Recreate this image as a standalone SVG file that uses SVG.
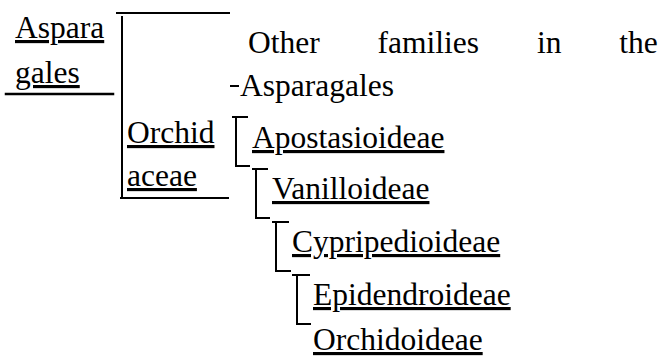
<svg xmlns="http://www.w3.org/2000/svg" width="664" height="356" viewBox="0 0 664 356">
<style>
.t{font-family:'Liberation Serif','Times New Roman','DejaVu Serif',serif;font-size:31.5px;fill:#000}
.u{text-decoration:underline}
line{stroke:#000;stroke-width:2;stroke-linecap:square}
.thick{stroke-width:2.5}
</style>
<rect width="664" height="356" fill="#fff"/>
<g id="connectors">
<line class="thick" x1="6" y1="94" x2="113" y2="94"/>
<line x1="117" y1="13" x2="229" y2="13"/>
<line x1="122" y1="17" x2="122" y2="198"/>
<line x1="121" y1="198" x2="228" y2="198"/>
<line x1="231" y1="86" x2="238" y2="86"/>
<line x1="233" y1="117" x2="247" y2="117"/>
<line x1="236" y1="118" x2="236" y2="166"/>
<line x1="236" y1="166" x2="249" y2="166"/>
<line x1="253" y1="169" x2="267" y2="169"/>
<line x1="256" y1="170" x2="256" y2="218"/>
<line x1="256" y1="218" x2="269" y2="218"/>
<line x1="273" y1="222" x2="288" y2="222"/>
<line x1="276" y1="223" x2="276" y2="271"/>
<line x1="276" y1="271" x2="290" y2="271"/>
<line x1="293" y1="275" x2="309" y2="275"/>
<line x1="297" y1="276" x2="297" y2="324"/>
<line x1="297" y1="324" x2="310" y2="324"/>
</g>
<g id="asparagales" class="t" font-family="Liberation Serif, serif"><text class="u" x="15" y="38">Aspara</text><text class="u" x="15" y="83">gales</text></g>
<g id="other-families" class="t" font-family="Liberation Serif, serif"><text x="248" y="53" word-spacing="50">Other families in the</text><text x="240" y="96">Asparagales</text></g>
<g id="orchidaceae" class="t" font-family="Liberation Serif, serif"><text class="u" x="127" y="143">Orchid</text><text class="u" x="127" y="186">aceae</text></g>
<g id="apostasioideae" class="t" font-family="Liberation Serif, serif"><text class="u" x="252" y="148">Apostasioideae</text></g>
<g id="vanilloideae" class="t" font-family="Liberation Serif, serif"><text class="u" x="272" y="199">Vanilloideae</text></g>
<g id="cypripedioideae" class="t" font-family="Liberation Serif, serif"><text class="u" x="292" y="252">Cypripedioideae</text></g>
<g id="epidendroideae" class="t" font-family="Liberation Serif, serif"><text class="u" x="313" y="305">Epidendroideae</text></g>
<g id="orchidoideae" class="t" font-family="Liberation Serif, serif"><text class="u" x="313" y="350">Orchidoideae</text></g>
</svg>
